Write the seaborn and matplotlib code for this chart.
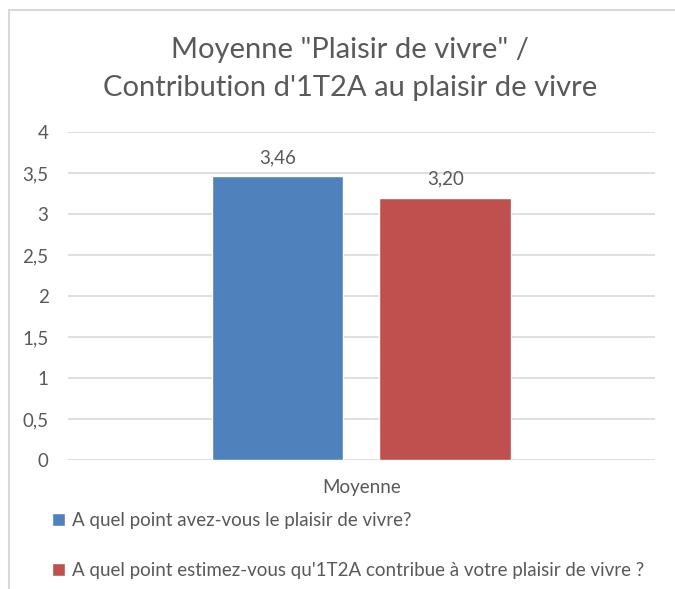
import matplotlib.pyplot as plt
import matplotlib.ticker as mticker
from matplotlib.lines import Line2D
import pandas as pd
import seaborn as sns

# données du graphique
categories = ["Moyenne"]
series = ["A quel point avez-vous le plaisir de vivre?",
          "A quel point estimez-vous qu'1T2A contribue à votre plaisir de vivre ?"]
values = [3.46, 3.20]
colors = ["#4F81BD", "#C0504D"]
y_ticks = [0, 0.5, 1, 1.5, 2, 2.5, 3, 3.5, 4]

sns.set_theme(style="white")
plt.rcParams['font.family'] = ['Lato', 'DejaVu Sans']
txt = "#595959"

df = pd.DataFrame({"cat": categories * len(series), "serie": series, "val": values})

fig = plt.figure(figsize=(6.75, 5.89), dpi=100)
ax = fig.add_axes([0.1007, 0.219, 0.8696, 0.557])

sns.barplot(data=df, x="cat", y="val", hue="serie", palette=colors,
            width=0.572, gap=0.214, ax=ax, legend=True, saturation=1)
ax.set_xlim(-0.5, 0.5)

for cont in ax.containers:
    ax.bar_label(cont, labels=[f"{v:.2f}".replace(".", ",") for v in cont.datavalues],
                 padding=7, fontsize=13.5, color=txt)

ax.set_ylim(0, 4)
ax.set_yticks(y_ticks)
ax.yaxis.set_major_formatter(mticker.FuncFormatter(lambda v, p: f"{v:g}".replace(".", ",")))
ax.grid(axis="y", color="#D9D9D9", linewidth=1.2)
ax.set_axisbelow(True)
for s in ax.spines.values():
    s.set_visible(False)
ax.tick_params(axis="y", labelsize=13.5, labelcolor=txt, length=0, pad=14)
ax.tick_params(axis="x", labelsize=13.5, labelcolor=txt, length=0, pad=14)
ax.set_xlabel("")
ax.set_ylabel("")

ax.set_title('Moyenne "Plaisir de vivre" /\nContribution d\'1T2A au plaisir de vivre',
             fontsize=21, color=txt, linespacing=1.55, pad=26, x=0.48)

handles, labels = ax.get_legend_handles_labels()
ax.legend_.remove()
fig.legend(handles, labels, loc="upper left", bbox_to_anchor=(0.077, 0.13),
           frameon=False, fontsize=13.5, labelcolor=txt, handlelength=0.7,
           handleheight=0.7, handletextpad=0.35, labelspacing=1.75,
           borderaxespad=0, borderpad=0)

# cadre du graphique
fig.add_artist(Line2D([0.014, 1.0], [0.983, 0.983], transform=fig.transFigure,
                      color="#D9D9D9", linewidth=1.5))
fig.add_artist(Line2D([0.014, 0.014], [0.0, 0.983], transform=fig.transFigure,
                      color="#D9D9D9", linewidth=1.5))

fig.savefig("out.png", dpi=100)
